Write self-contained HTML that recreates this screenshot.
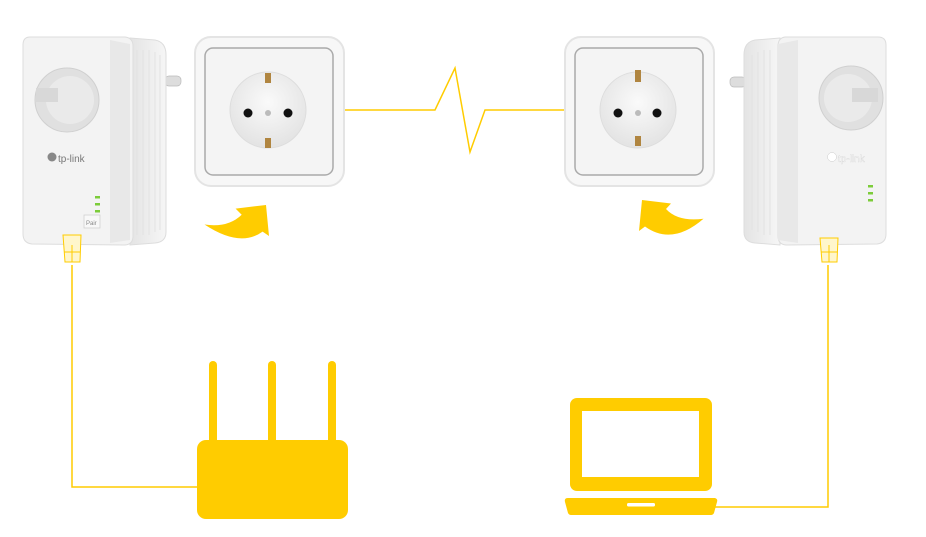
<!DOCTYPE html>
<html><head><meta charset="utf-8"><style>
html,body{margin:0;padding:0;background:#fff;width:926px;height:537px;overflow:hidden}
svg{display:block}
</style></head><body>
<svg width="926" height="537" viewBox="0 0 926 537" xmlns="http://www.w3.org/2000/svg" font-family="Liberation Sans, sans-serif">
<defs>
<linearGradient id="side" x1="0" x2="1"><stop offset="0" stop-color="#e4e4e4"/><stop offset="1" stop-color="#f6f6f6"/></linearGradient>
<radialGradient id="sock" cx="0.5" cy="0.4" r="0.6"><stop offset="0" stop-color="#fafafa"/><stop offset="1" stop-color="#e3e3e3"/></radialGradient>
</defs>
<!-- cables -->
<g stroke="#ffcc00" stroke-width="1.5" fill="none">
<polyline points="72,265 72,487 198,487"/>
<polyline points="828,265 828,507 714,507"/>
<polyline points="343,110 435,110 455,68 470,152 485,110 565,110"/>
</g>
<!-- left adapter -->
<g>
<rect x="165" y="76" width="16" height="10" rx="4" fill="#ddd" stroke="#bbb" stroke-width="0.7"/>
<path d="M130,38 L155,40 Q166,42 166,55 L166,232 Q166,242 155,243 L130,245 Z" fill="url(#side)" stroke="#ddd"/>
<g stroke="#e2e2e2" stroke-width="1"><line x1="137" y1="50" x2="137" y2="235"/><line x1="143" y1="50" x2="143" y2="235"/><line x1="149" y1="50" x2="149" y2="235"/><line x1="155" y1="52" x2="155" y2="232"/><line x1="160" y1="55" x2="160" y2="230"/></g>
<path d="M30,37 L125,37 Q133,38 133,46 L133,236 Q133,245 124,245 L32,244 Q23,243 23,234 L23,45 Q23,37 30,37 Z" fill="#f3f3f3" stroke="#ddd"/>
<path d="M110,40 L130,44 L130,240 L110,243 Z" fill="#e8e8e8"/>
<circle cx="67" cy="100" r="32" fill="#e0e0e0" stroke="#d0d0d0"/>
<circle cx="70" cy="100" r="24" fill="#eaeaea"/>
<rect x="36" y="88" width="22" height="14" fill="#d8d8d8"/>
<text x="58" y="162" font-size="10" fill="#777">tp-link</text>
<circle cx="52" cy="157" r="4.5" fill="#888"/>
<g fill="#7ccc3a"><rect x="95" y="196" width="5" height="2.5"/><rect x="95" y="203" width="5" height="2.5"/><rect x="95" y="210" width="5" height="2.5"/></g>
<rect x="84" y="215" width="16" height="13" fill="#f8f8f8" stroke="#ccc" stroke-width="0.7"/>
<text x="86" y="225" font-size="6" fill="#888">Pair</text>
<path d="M63,235 L81,235 L80,262 L65,262 Z" fill="#fff6cc" stroke="#ffcc00" stroke-width="1"/>
<line x1="64" y1="252" x2="80" y2="252" stroke="#ffcc00"/><line x1="72" y1="245" x2="72" y2="262" stroke="#ffcc00"/>
</g>
<!-- left wall socket -->
<g>
<rect x="195" y="37" width="149" height="149" rx="16" fill="#f7f7f7" stroke="#e4e4e4" stroke-width="2"/>
<rect x="205" y="48" width="128" height="127" rx="8" fill="#f4f4f4" stroke="#aaa" stroke-width="1.5"/>
<circle cx="268" cy="110" r="38" fill="url(#sock)" stroke="#ddd"/>
<circle cx="248" cy="113" r="4.5" fill="#111"/><circle cx="288" cy="113" r="4.5" fill="#111"/><circle cx="268" cy="113" r="3" fill="#bbb"/>
<rect x="265" y="73" width="6" height="10" fill="#b08540"/><rect x="265" y="138" width="6" height="10" fill="#b08540"/>
</g>
<!-- right wall socket -->
<g>
<rect x="565" y="37" width="149" height="149" rx="16" fill="#f7f7f7" stroke="#e4e4e4" stroke-width="2"/>
<rect x="575" y="48" width="128" height="127" rx="8" fill="#f4f4f4" stroke="#aaa" stroke-width="1.5"/>
<circle cx="638" cy="110" r="38" fill="url(#sock)" stroke="#ddd"/>
<circle cx="618" cy="113" r="4.5" fill="#111"/><circle cx="657" cy="113" r="4.5" fill="#111"/><circle cx="638" cy="113" r="3" fill="#bbb"/>
<rect x="635" y="70" width="6" height="12" fill="#b08540"/><rect x="635" y="136" width="6" height="10" fill="#b08540"/>
</g>
<!-- right adapter -->
<g>
<rect x="730" y="77" width="16" height="10" rx="4" fill="#ddd" stroke="#bbb" stroke-width="0.7"/>
<path d="M780,38 L755,40 Q744,42 744,55 L744,232 Q744,242 755,243 L780,245 Z" fill="url(#side)" stroke="#ddd"/>
<g stroke="#e2e2e2" stroke-width="1"><line x1="752" y1="55" x2="752" y2="230"/><line x1="758" y1="52" x2="758" y2="232"/><line x1="764" y1="50" x2="764" y2="235"/><line x1="770" y1="50" x2="770" y2="235"/></g>
<path d="M785,37 L878,37 Q886,37 886,45 L886,234 Q886,243 877,244 L787,245 Q778,245 778,236 L778,46 Q778,38 785,37 Z" fill="#f3f3f3" stroke="#ddd"/>
<path d="M778,44 L798,40 L798,243 L778,240 Z" fill="#e8e8e8"/>
<circle cx="851" cy="98" r="32" fill="#e0e0e0" stroke="#d0d0d0"/>
<circle cx="848" cy="98" r="24" fill="#eaeaea"/>
<rect x="852" y="88" width="26" height="14" fill="#d8d8d8"/>
<text x="838" y="162" font-size="10" fill="#fff" stroke="#ccc" stroke-width="0.3">tp-link</text>
<circle cx="832" cy="157" r="4.5" fill="#fff" stroke="#ccc" stroke-width="0.5"/>
<g fill="#7ccc3a"><rect x="868" y="185" width="5" height="2.5"/><rect x="868" y="192" width="5" height="2.5"/><rect x="868" y="199" width="5" height="2.5"/></g>
<path d="M820,238 L838,238 L837,262 L822,262 Z" fill="#fff6cc" stroke="#ffcc00" stroke-width="1"/>
<line x1="821" y1="252" x2="837" y2="252" stroke="#ffcc00"/><line x1="829" y1="245" x2="829" y2="262" stroke="#ffcc00"/>
</g>
<!-- arrows -->
<path d="M204.5,224.5 Q228,228 241.7,214.7 L235.6,208.6 L266,205 L269,236 L262.6,231.6 Q240,248 204.5,224.5 Z" fill="#ffcc00"/>
<path d="M703.5,218.7 Q678,222 666,209 L671,203.5 L642,200 L639,231 L645,226.5 Q672,246 703.5,218.7 Z" fill="#ffcc00"/>
<!-- router -->
<g fill="#ffcc00">
<rect x="209" y="361" width="8" height="84" rx="4"/>
<rect x="268" y="361" width="8" height="84" rx="4"/>
<rect x="328" y="361" width="8" height="84" rx="4"/>
<rect x="197" y="440" width="151" height="79" rx="9"/>
</g>
<!-- laptop -->
<g>
<rect x="570" y="398" width="142" height="93" rx="7" fill="#ffcc00"/>
<rect x="582" y="411" width="117" height="66" fill="#fff"/>
<path d="M568,498 L715,498 Q718,499 717,502 L714,513 Q713,515 711,515 L571,515 Q569,515 568,513 L565,502 Q564,498 568,498 Z" fill="#ffcc00"/>
<rect x="627" y="503" width="28" height="3.5" rx="1.5" fill="#fff"/>
</g>
</svg>
</body></html>
